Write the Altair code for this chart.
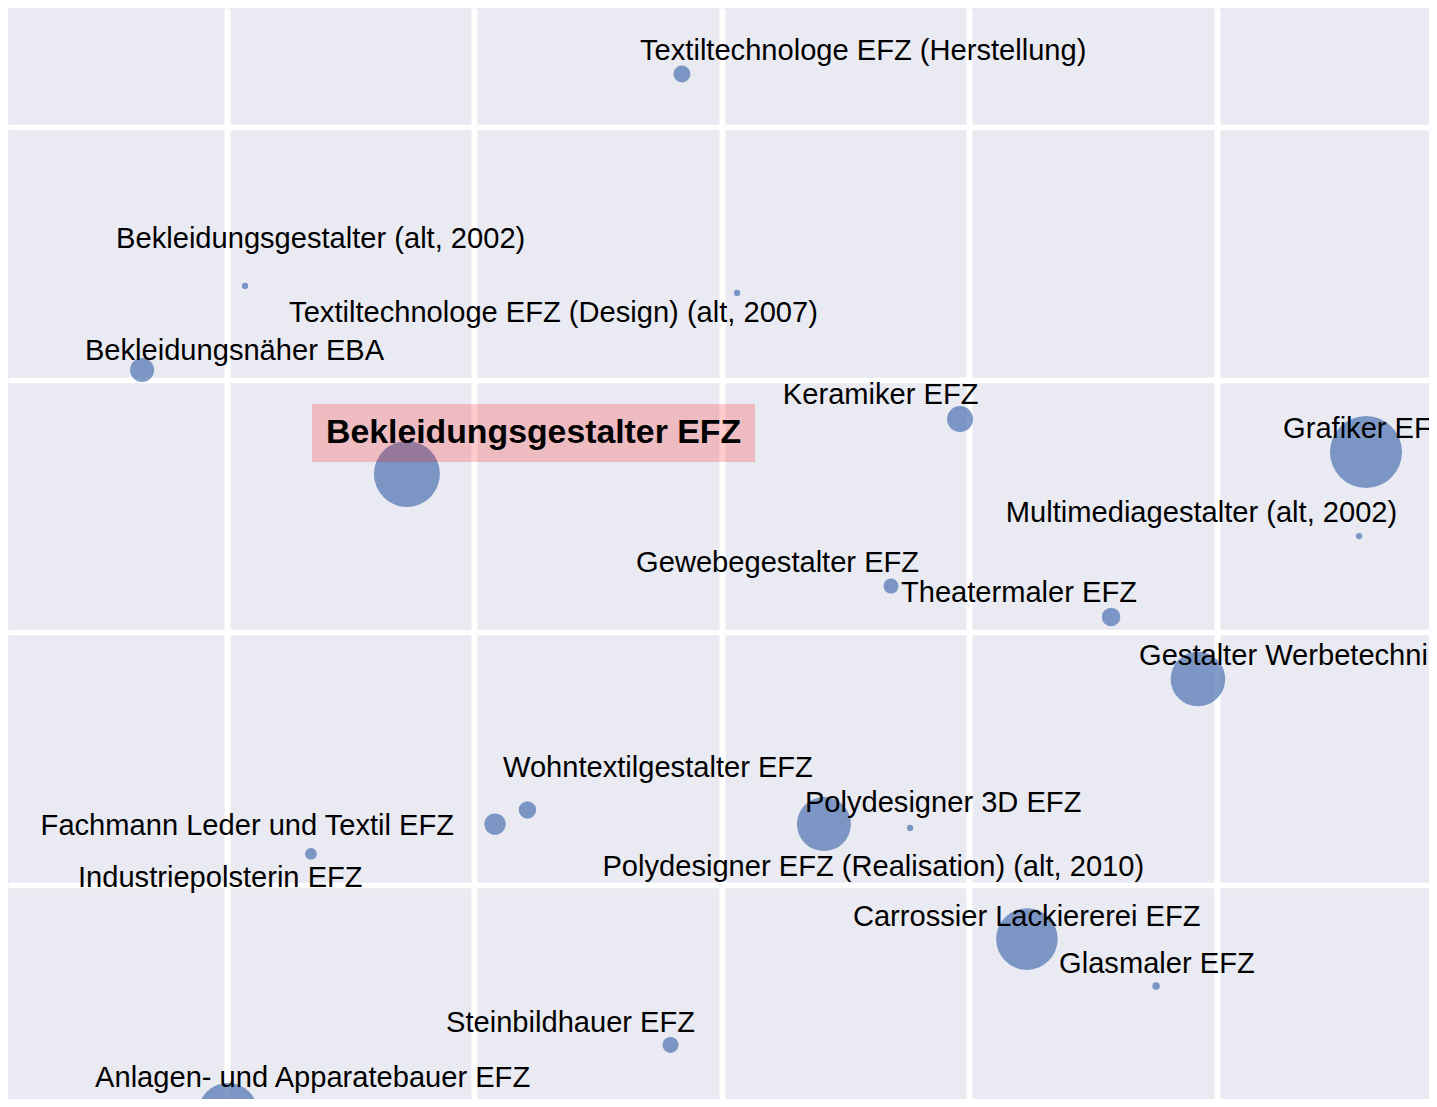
import altair as alt
import pandas as pd

names = [
    "Textiltechnologe EFZ (Herstellung)",
    "Bekleidungsgestalter (alt, 2002)",
    "Textiltechnologe EFZ (Design) (alt, 2007)",
    "Bekleidungsnäher EBA",
    "Keramiker EFZ",
    "Bekleidungsgestalter EFZ",
    "Grafiker EFZ",
    "Multimediagestalter (alt, 2002)",
    "Gewebegestalter EFZ",
    "Theatermaler EFZ",
    "Gestalter Werbetechnik EFZ",
    "Wohntextilgestalter EFZ",
    "Fachmann Leder und Textil EFZ",
    "Polydesigner 3D EFZ",
    "Polydesigner EFZ (Realisation) (alt, 2010)",
    "Industriepolsterin EFZ",
    "Carrossier Lackiererei EFZ",
    "Glasmaler EFZ",
    "Steinbildhauer EFZ",
    "Anlagen- und Apparatebauer EFZ",
]
x_vals = [2.838, 1.073, 3.061, 0.657, 3.962, 1.727, 5.602, 5.574, 3.683, 4.572,
          4.923, 2.214, 2.083, 3.412, 3.760, 1.339, 4.232, 4.754, 2.792, 1.004]
y_vals = [4.210, 3.371, 3.343, 3.038, 2.844, 2.627, 2.714, 2.381, 2.183, 2.061,
          1.815, 1.297, 1.241, 1.241, 1.226, 1.123, 0.786, 0.600, 0.367, 0.098]
counts = [72, 10, 10, 144, 169, 1089, 1296, 10, 56, 86,
          745, 76, 114, 729, 10, 35, 949, 14, 64, 900]
label_x = [2.669, 0.552, 1.251, 0.426, 3.246, 1.400, 5.267, 4.147, 2.653, 3.723,
           4.685, 2.115, 0.247, 3.335, 2.517, 0.398, 3.529, 4.362, 1.885, 0.467]
label_y = [4.265, 3.521, 3.228, 3.078, 2.905, 2.749, 2.769, 2.437, 2.240, 2.120,
           1.871, 1.427, 1.198, 1.289, 1.036, 0.992, 0.838, 0.652, 0.418, 0.201]
highlight = "Bekleidungsgestalter EFZ"

x_grid = [1, 2, 3, 4, 5]
y_grid = [1, 2, 3, 4]

df = pd.DataFrame({
    "name": names, "x": x_vals, "y": y_vals, "n": counts,
    "lx": label_x, "ly": label_y,
})

xs = alt.Scale(domain=[0.1152, 5.8566], nice=False, zero=False)
ys = alt.Scale(domain=[0.153, 4.471], nice=False, zero=False)
xa = alt.Axis(values=x_grid, grid=True, gridColor="white", gridWidth=6, gridOpacity=1,
              labels=False, ticks=False, domain=False, title=None)
ya = alt.Axis(values=y_grid, grid=True, gridColor="white", gridWidth=5.5, gridOpacity=1,
              labels=False, ticks=False, domain=False, title=None)

base = alt.Chart(df)

points = base.mark_circle(clip=True, color="#4C72B0", opacity=0.7).encode(
    x=alt.X("x:Q", scale=xs, axis=xa),
    y=alt.Y("y:Q", scale=ys, axis=ya),
    size=alt.Size("n:Q", scale=alt.Scale(domain=[0, 1000], range=[0, 4000]), legend=None),
)

rect_path = "M-1,-0.1309L1,-0.1309L1,0.1309L-1,0.1309Z"
hl_box = base.transform_filter(alt.datum.name == highlight).mark_point(
    shape=rect_path, size=443 * 443, filled=True, color="red", opacity=0.2,
    strokeWidth=0, xOffset=207.5, yOffset=-10, clip=True,
).encode(
    x=alt.X("lx:Q", scale=xs, axis=xa),
    y=alt.Y("ly:Q", scale=ys, axis=ya),
)

labels = base.transform_filter(alt.datum.name != highlight).mark_text(
    align="left", baseline="alphabetic", font="Liberation Sans", fontSize=29.1,
    color="black", clip=True,
).encode(
    x=alt.X("lx:Q", scale=xs, axis=xa),
    y=alt.Y("ly:Q", scale=ys, axis=ya),
    text="name:N",
)

hl_label = base.transform_filter(alt.datum.name == highlight).mark_text(
    align="left", baseline="alphabetic", font="Liberation Sans", fontSize=33.8,
    fontWeight="bold", color="black", clip=True,
).encode(
    x=alt.X("lx:Q", scale=xs, axis=xa),
    y=alt.Y("ly:Q", scale=ys, axis=ya),
    text="name:N",
)

chart = alt.layer(points, hl_box, labels, hl_label).properties(
    width=1421, height=1091, padding=0,
    autosize=alt.AutoSizeParams(type="fit", contains="padding"),
).configure_view(fill="#EAEAF2", strokeWidth=0)

chart.save("out.html", embed_options={"renderer": "svg", "actions": False})
